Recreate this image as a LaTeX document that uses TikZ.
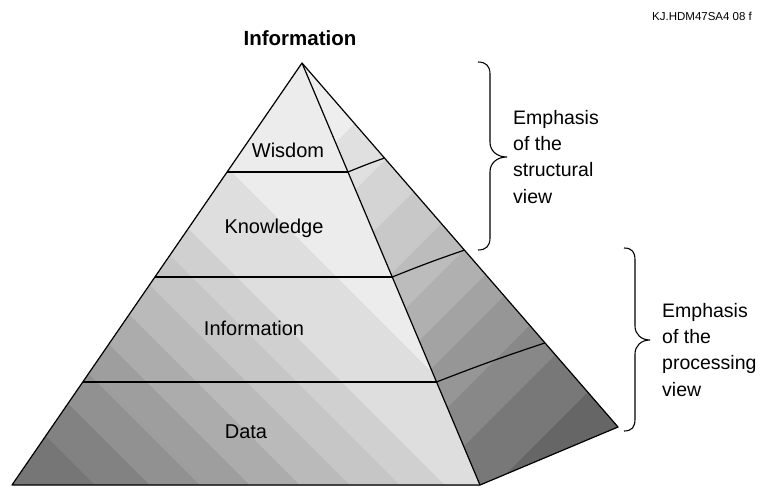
\documentclass[tikz,border=0pt]{standalone}
\usepackage{fontspec}
\setmainfont{Liberation Sans}
\usetikzlibrary{calc}
\begin{document}
\begin{tikzpicture}[x=1pt,y=-1pt,
  edge/.style={line width=1.2pt, line join=round},
  layerline/.style={line width=1.6pt},
  lbl/.style={inner sep=0pt, anchor=base, font=\fontsize{20}{24}\selectfont},
  side/.style={inner sep=0pt, anchor=north west, align=left, font=\fontsize{19.5}{26.3}\selectfont},
  bracestyle/.style={line width=1.1pt}]
\useasboundingbox (0,0) rectangle (766,488);
\coordinate (A) at (302,63);
\coordinate (L) at (12,485);
\coordinate (R) at (480,485);
\coordinate (C) at (618,427);
% front face bands (u = x - y)
\begin{scope}
\clip (A) -- (L) -- (R) -- cycle;
\foreach \a/\g in {-2000/118,-390/130,-335/145,-285/158,-235/172,-185/186,-135/198,-85/208,-40/222,60/236}{
  \fill[fill={rgb,255:red,\g;green,\g;blue,\g}] (\a-100,-100) -- (\a+700,700) -- (2000,700) -- (2000,-100) -- cycle;
}
\end{scope}
% right face bands (v = x + y)
\begin{scope}
\clip (A) -- (R) -- (C) -- cycle;
\foreach \a/\g in {-2000/238,478/224,545/212,605/200,665/188,714/176,760/163,800/150,855/136,910/120,980/102}{
  \fill[fill={rgb,255:red,\g;green,\g;blue,\g}] (\a+100,-100) -- (\a-700,700) -- (2000,700) -- (2000,-100) -- cycle;
}
\end{scope}
% outlines
\draw[edge] (A) -- (L) -- (R) -- (C) -- cycle;
\draw[edge] (A) -- (R);
\foreach \t in {0.2583,0.5071,0.7559}
  \draw[layerline] ($(A)!\t!(L)$) -- ($(A)!\t!(R)$);
\foreach \t/\s in {0.2583/0.261,0.5071/0.514,0.7559/0.769}
  \draw[edge] ($(A)!\t!(R)$) to[bend left=1.5] ($(A)!\s!(C)$);
% braces
\draw[bracestyle] (478,62) .. controls (486,62) and (490,66) .. (490,74) -- (490,142)
  .. controls (490,151) and (497,157) .. (507,157)
  .. controls (497,157) and (490,163) .. (490,172) -- (490,238)
  .. controls (490,246) and (486,250) .. (478,250);
\draw[bracestyle] (624,248) .. controls (632,248) and (635,252) .. (635,260) -- (635,326)
  .. controls (635,334) and (641,340) .. (650,340)
  .. controls (641,340) and (635,346) .. (635,354) -- (635,419)
  .. controls (635,427) and (632,431) .. (624,431);
% texts
\node[lbl, font=\bfseries\fontsize{20.5}{24}\selectfont] (title) at (300,45) {Information};
\node[lbl] (wis) at (288,157) {Wisdom};
\node[lbl] (kno) at (274,233) {Knowledge};
\node[lbl] (inf) at (254,335) {Information};
\node[lbl] (dat) at (246,438) {Data};
\node[side] (s1) at (513,110) {Emphasis\\of the\\structural\\view};
\node[side] (s2) at (662,303) {Emphasis\\of the\\processing\\view};
\node[inner sep=0pt, anchor=base west, font=\fontsize{11.5}{13}\selectfont] (code) at (652,20) {KJ.HDM47SA4 08 f};
\end{tikzpicture}
\end{document}
